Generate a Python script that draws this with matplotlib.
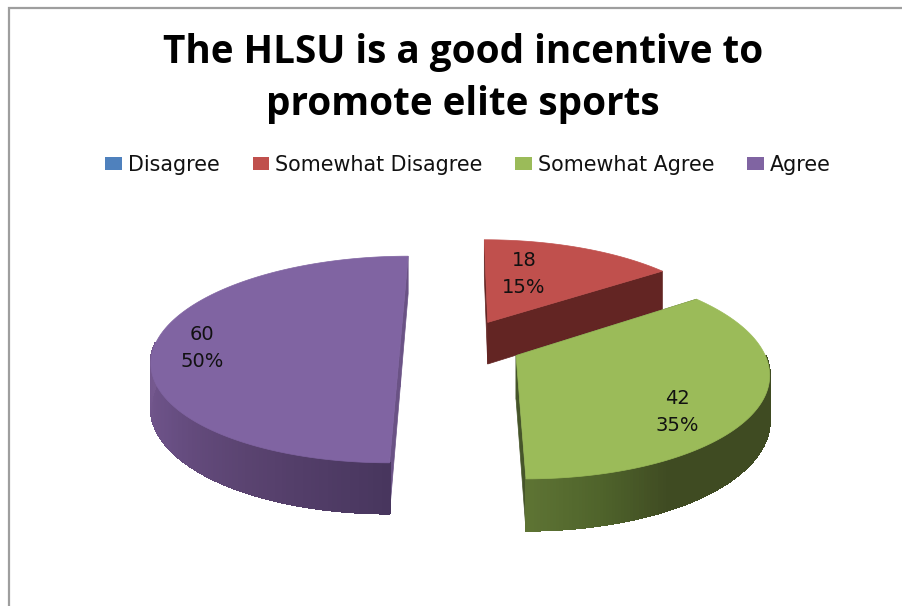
import numpy as np
import matplotlib
matplotlib.use("Agg")
import matplotlib.pyplot as plt
from matplotlib.collections import PolyCollection
from matplotlib.colors import LinearSegmentedColormap
from matplotlib.patches import Patch, Polygon

categories = ["Disagree", "Somewhat Disagree", "Somewhat Agree", "Agree"]
values = [0, 18, 42, 60]
title_lines = ["The HLSU is a good incentive to", "promote elite sports"]

colors = ["#4F81BD", "#C0504D", "#9BBB59", "#8064A2"]
inner_colors = ["#2C4D75", "#632523", "#46552A", "#6A5285"]
# rim shading, from the front of the pie (180 degrees) outwards
rim_stops = {
    "Somewhat Disagree": ["#632523", "#632523"],
    "Somewhat Agree": ["#5E7434", "#4F632B", "#3F4B22", "#3F4B22"],
    "Agree": ["#48365E", "#5A4370", "#6A5085", "#75598F"],
}
rim_span = {"Somewhat Disagree": 180, "Somewhat Agree": 45, "Agree": 90}
# where the value labels sit, in pixels
label_x = {"Somewhat Disagree": 524, "Somewhat Agree": 677, "Agree": 202}
label_y = {"Somewhat Disagree": 274, "Somewhat Agree": 412, "Agree": 348}

# pie projection, in pixels
vx, y0 = 461, 344
rx, ry = 245, 101
persp = 0.15
explode = 0.248
thick = 43


def project(X, Y, depth=0.0):
    s = 1 / (1 + persp * Y)
    return np.column_stack([vx + rx * X * s, y0 - ry * Y * s + depth * s])


def draw_slice(ax, name, start, end, color, inner):
    mid = np.radians((start + end) / 2)
    ox, oy = explode * np.sin(mid), explode * np.cos(mid)
    th = np.radians(np.linspace(start, end, 200))
    X, Y = ox + np.sin(th), oy + np.cos(th)

    # the two cut faces
    for a in (start, end):
        ra = np.radians(a)
        xs = np.array([ox, ox + np.sin(ra)])
        ys = np.array([oy, oy + np.cos(ra)])
        top = project(xs, ys)
        bot = project(xs, ys, thick)
        ax.add_patch(Polygon(np.vstack([top, bot[::-1]]), fc=inner, ec=inner, lw=0.5))

    # outer rim, one small strip per step, the back of the rim is hidden anyway
    top = project(X, Y)
    bot = project(X, Y, thick)
    front = np.where(np.cos(th[:-1]) < 0.0)[0]
    if len(front):
        quads = [np.vstack([top[i], top[i + 1], bot[i + 1], bot[i]]) for i in front]
        cmap = LinearSegmentedColormap.from_list(name, rim_stops[name])
        shade = np.clip(np.abs(np.degrees(th[front]) - 180) / rim_span[name], 0, 1)
        ax.add_collection(PolyCollection(quads, facecolors=cmap(shade), edgecolors=cmap(shade),
                                         linewidths=1.0, antialiaseds=False))

    # top face
    apex = project(np.array([ox]), np.array([oy]))
    ax.add_patch(Polygon(np.vstack([apex, top]), fc=color, ec=color, lw=0.5))


fig = plt.figure(figsize=(9.02, 6.06), dpi=100)
ax = fig.add_axes([0, 0, 1, 1])
ax.set_xlim(0, 902)
ax.set_ylim(606, 0)
ax.axis("off")

# chart frame, only top and left are in the picture
ax.plot([8.5, 8.5, 902], [606, 7.5, 7.5], color="#9E9E9E", lw=1.6, solid_joinstyle="miter")

total = sum(values)
edges = np.cumsum([0] + values) / total * 360
slices = {c: (edges[i], edges[i + 1], colors[i], inner_colors[i]) for i, c in enumerate(categories)}

for name in ["Agree", "Somewhat Disagree", "Somewhat Agree"]:
    draw_slice(ax, name, *slices[name])

for name, v in zip(categories, values):
    if v > 0:
        ax.text(label_x[name], label_y[name], f"{v}\n{v / total:.0%}", ha="center", va="center",
                fontsize=14, color="#111111", linespacing=1.55, family="DejaVu Sans")

ax.text(463, 53, title_lines[0], ha="center", va="center", fontsize=27.8, fontweight="bold",
        family="Open Sans", color="black")
ax.text(463, 104, title_lines[1], ha="center", va="center", fontsize=27.8, fontweight="bold",
        family="Open Sans", color="black")

handles = [Patch(fc=c, ec="none") for c in colors]
ax.legend(handles, categories, ncol=4, loc="center", bbox_to_anchor=(468 / 902, 1 - 165 / 606),
          frameon=False, prop={"family": "DejaVu Sans", "size": 14.9}, handlelength=0.78,
          handleheight=0.62, handletextpad=0.3, columnspacing=1.6, labelcolor="#111111")

fig.savefig("out.png", dpi=100)
